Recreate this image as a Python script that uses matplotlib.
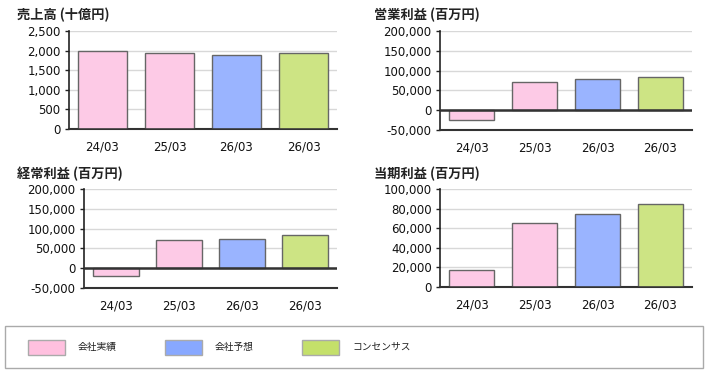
import numpy as np
import matplotlib.pyplot as plt
from matplotlib.patches import Rectangle

plt.rcParams['font.family'] = ['Noto Sans CJK JP', 'DejaVu Sans']

# data
periods = ['24/03', '25/03', '26/03', '26/03']
kinds = ['actual', 'actual', 'forecast', 'consensus']
sales = [2000, 1940, 1890, 1940]
op_income = [-24000, 70000, 78000, 84000]
ord_income = [-20000, 71000, 73000, 84000]
net_income = [17000, 65000, 74000, 85000]
legend_labels = ['会社実績', '会社予想', 'コンセンサス']

bar_colors = {'actual': '#fdcae6', 'forecast': '#9ab4ff', 'consensus': '#cde484'}
legend_colors = ['#ffc0df', '#88a8ff', '#c4e06a']

# title, values, ylim, yticks, axes box in px (left, right, top, bottom), title pos in px
panels = [
    ('売上高 (十億円)', sales, (0, 2500), np.arange(0, 2501, 500), (69, 337, 31, 129), (17, 15)),
    ('営業利益 (百万円)', op_income, (-50000, 200000), np.arange(-50000, 200001, 50000), (440, 692, 31, 130), (374, 15)),
    ('経常利益 (百万円)', ord_income, (-50000, 200000), np.arange(-50000, 200001, 50000), (84, 337, 189, 288), (17, 174)),
    ('当期利益 (百万円)', net_income, (0, 100000), np.arange(0, 100001, 20000), (440, 692, 189, 287), (374, 174)),
]

W, H = 708, 374
fig = plt.figure(figsize=(W / 100, H / 100), dpi=100)

for title, vals, ylim, yticks, (l, r, t, b), (tx, ty) in panels:
    ax = fig.add_axes([l / W, 1 - b / H, (r - l) / W, (b - t) / H])
    x = np.arange(len(vals))
    ax.bar(x, vals, width=0.73, color=[bar_colors[k] for k in kinds],
           edgecolor='#666666', linewidth=1.0, zorder=3)
    ax.set_xlim(-0.5, len(vals) - 0.5)
    ax.set_ylim(*ylim)
    ax.set_yticks(yticks)
    ax.set_yticklabels([f'{v:,}' for v in yticks], fontsize=8.5, color='#111111', family='DejaVu Sans')
    ax.set_xticks(x)
    ax.set_xticklabels(periods, fontsize=8.5, color='#111111', family='DejaVu Sans')
    ax.tick_params(axis='y', length=3, width=1, pad=3, color='#222222')
    ax.tick_params(axis='x', length=0, pad=8)
    ax.grid(axis='y', color='#d8d8d8', linewidth=1, zorder=0)
    for s in ['top', 'right']:
        ax.spines[s].set_visible(False)
    ax.spines['left'].set_color('#222222')
    ax.spines['left'].set_linewidth(1.2)
    ax.spines['bottom'].set_color('#333333')
    ax.spines['bottom'].set_linewidth(1.5)
    ax.axhline(0, color='#333333', linewidth=1.8, zorder=4)
    fig.text(tx / W, 1 - ty / H, title, fontsize=9.5, fontweight='bold',
             color='#222222', ha='left', va='center')

# legend box
fig.patches.append(Rectangle((5 / W, 1 - 368 / H), 698 / W, 42 / H, transform=fig.transFigure,
                             facecolor='white', edgecolor='#aaaaaa', linewidth=1))
for i, (lab, col) in enumerate(zip(legend_labels, legend_colors)):
    x0 = 28 + i * 137
    fig.patches.append(Rectangle((x0 / W, 1 - 355 / H), 37 / W, 15 / H, transform=fig.transFigure,
                                 facecolor=col, edgecolor='#aaaaaa', linewidth=1))
    fig.text((x0 + 50) / W, 1 - 347 / H, lab, fontsize=7, color='#222222', ha='left', va='center')

fig.savefig('out.png', dpi=100)
